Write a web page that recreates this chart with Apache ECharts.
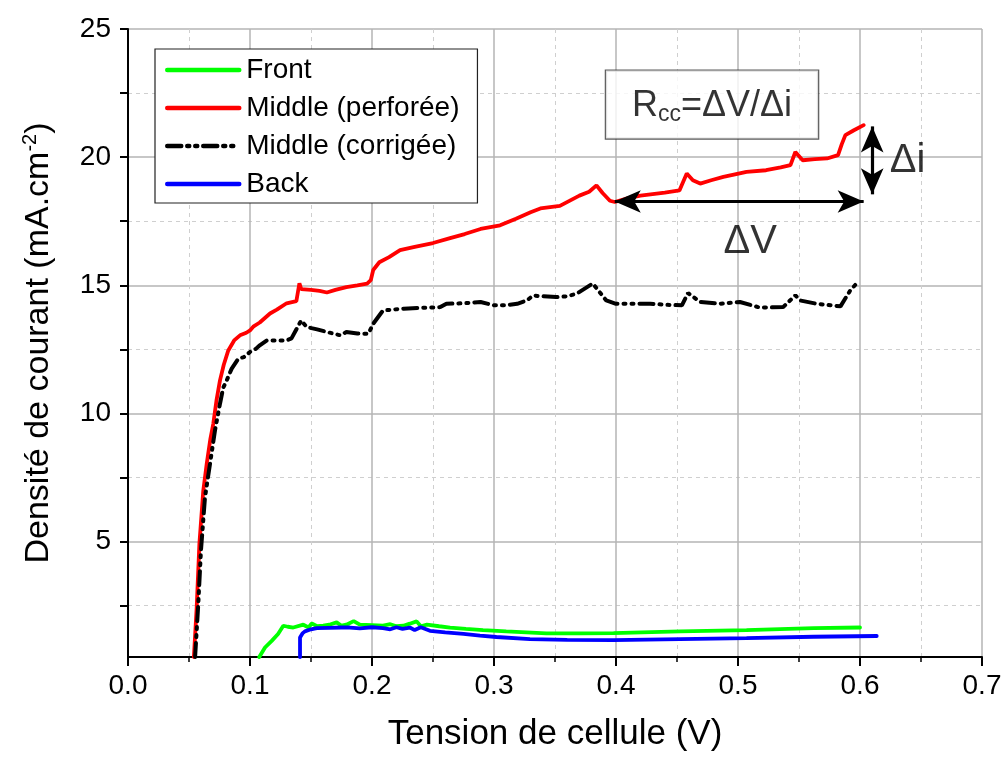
<!DOCTYPE html>
<html>
<head>
<meta charset="utf-8">
<script src="https://cdn.jsdelivr.net/npm/echarts@6/dist/echarts.min.js"></script>
<style>html,body{margin:0;padding:0;background:#fff}#c{width:1005px;height:760px}</style>
</head>
<body>
<div id="c"></div>
<script>
// ---- data ----
const seriesNames = ['Front', 'Middle (perforée)', 'Middle (corrigée)', 'Back'];
const front = [[0.1076,0.5],[0.1123,0.87],[0.1178,1.13],[0.123,1.4],[0.1273,1.72],[0.131,1.68],[0.1355,1.65],[0.1437,1.76],[0.148,1.65],[0.1506,1.81],[0.155,1.7],[0.16,1.72],[0.165,1.76],[0.171,1.85],[0.175,1.72],[0.179,1.76],[0.185,1.9],[0.19,1.76],[0.2,1.74],[0.209,1.72],[0.215,1.78],[0.22,1.7],[0.2257,1.72],[0.231,1.8],[0.2366,1.89],[0.24,1.7],[0.245,1.76],[0.255,1.7],[0.264,1.65],[0.277,1.6],[0.291,1.55],[0.31,1.5],[0.343,1.42],[0.37,1.42],[0.398,1.43],[0.4525,1.5],[0.507,1.55],[0.562,1.63],[0.6,1.65]];
const middlePerf = [[0.054,0.5],[0.0563,2.43],[0.0585,4.9],[0.0617,6.99],[0.0645,8.03],[0.0675,9.0],[0.0699,9.6],[0.0725,10.5],[0.0754,11.29],[0.0785,11.9],[0.0822,12.46],[0.087,12.85],[0.0918,13.05],[0.097,13.15],[0.1,13.24],[0.103,13.4],[0.108,13.55],[0.1164,13.9],[0.122,14.05],[0.13,14.3],[0.138,14.38],[0.1405,15.08],[0.142,14.85],[0.15,14.82],[0.157,14.78],[0.163,14.72],[0.17,14.82],[0.179,14.93],[0.188,15.0],[0.196,15.07],[0.199,15.2],[0.201,15.6],[0.206,15.9],[0.214,16.1],[0.223,16.37],[0.235,16.5],[0.25,16.65],[0.264,16.84],[0.276,17.0],[0.289,17.2],[0.305,17.34],[0.318,17.6],[0.33,17.85],[0.338,18.0],[0.354,18.1],[0.37,18.5],[0.378,18.65],[0.384,18.9],[0.389,18.6],[0.395,18.3],[0.399,18.25],[0.41,18.4],[0.42,18.5],[0.44,18.62],[0.452,18.7],[0.458,19.36],[0.463,19.1],[0.469,18.97],[0.478,19.1],[0.488,19.23],[0.507,19.43],[0.523,19.49],[0.535,19.6],[0.543,19.69],[0.547,20.2],[0.553,19.88],[0.563,19.92],[0.573,19.95],[0.582,20.08],[0.585,20.5],[0.588,20.86],[0.595,21.05],[0.603,21.25]];
const middleCorr = [[0.055,0.5],[0.0576,2.57],[0.0598,4.65],[0.0631,6.73],[0.0672,8.03],[0.0713,9.34],[0.0754,10.38],[0.078,11.0],[0.0809,11.29],[0.085,11.75],[0.0904,12.14],[0.095,12.2],[0.1,12.4],[0.105,12.53],[0.108,12.66],[0.1137,12.85],[0.122,12.85],[0.13,12.85],[0.134,12.93],[0.142,13.63],[0.1465,13.37],[0.155,13.28],[0.163,13.18],[0.174,13.05],[0.179,13.18],[0.188,13.12],[0.197,13.11],[0.201,13.5],[0.209,14.02],[0.226,14.09],[0.24,14.12],[0.256,14.15],[0.261,14.28],[0.275,14.3],[0.289,14.35],[0.3,14.22],[0.309,14.22],[0.319,14.28],[0.327,14.41],[0.332,14.6],[0.351,14.54],[0.36,14.57],[0.368,14.68],[0.381,15.07],[0.392,14.41],[0.4,14.28],[0.428,14.28],[0.4415,14.24],[0.454,14.22],[0.459,14.7],[0.469,14.35],[0.485,14.28],[0.5016,14.35],[0.518,14.13],[0.537,14.15],[0.547,14.61],[0.551,14.41],[0.5645,14.28],[0.584,14.18],[0.592,14.8],[0.599,15.17]];
const back = [[0.141,0.5],[0.141,1.26],[0.143,1.42],[0.145,1.5],[0.15,1.58],[0.1547,1.63],[0.165,1.64],[0.175,1.65],[0.182,1.65],[0.19,1.62],[0.2,1.66],[0.209,1.63],[0.215,1.58],[0.22,1.66],[0.225,1.6],[0.231,1.65],[0.235,1.55],[0.24,1.66],[0.2475,1.52],[0.26,1.46],[0.275,1.4],[0.2885,1.33],[0.302,1.28],[0.3295,1.2],[0.36,1.17],[0.398,1.16],[0.4525,1.2],[0.507,1.24],[0.562,1.29],[0.6137,1.32]];
const yMajorTicks = [5, 10, 15, 20, 25];
const yMinorTicks = [2.5, 7.5, 12.5, 17.5, 22.5];
const dvArrow = [[0.399, 18.27], [0.603, 18.27]];
const diArrow = [[0.61, 21.2], [0.61, 18.55]];
const annotPoints = [[0.51, 16.7], [0.639, 19.85], [0.4787, 22.05]];
const annotTexts = ['ΔV', 'Δi', '{r|R}{c|cc}{r|=ΔV/Δi}'];

// ---- chart ----
const FONT = '"Liberation Sans", Arial, sans-serif';
const chart = echarts.init(document.getElementById('c'), null, {renderer: 'canvas'});
const colors = ['#00ff00', '#ff0000', '#000000', '#0000ff'];
const datas = [front, middlePerf, middleCorr, back];
const series = seriesNames.map((n, i) => ({
  name: n, type: 'line', data: datas[i], symbol: 'none', showSymbol: false,
  animation: false, z: i === 2 ? 4 : 3,
  lineStyle: i === 2 ? {color: '#000', width: 4, type: [14, 6, 2, 6, 2, 6], cap: 'round'} : {color: colors[i], width: 3.8, cap: 'round'},
  itemStyle: {color: colors[i]}
}));
series.push({
  name: 'arrows', type: 'line', data: [], symbol: 'none', animation: false,
  markLine: {
    silent: true, animation: false,
    symbol: ['arrow', 'arrow'], symbolSize: [17, 26],
    lineStyle: {color: '#000', width: 3.2, type: 'solid'},
    label: {show: false},
    data: [
      [{coord: dvArrow[0]}, {coord: dvArrow[1]}],
      [{coord: diArrow[0]}, {coord: diArrow[1]}]
    ]
  }
});
series.push({
  name: 'annot', type: 'scatter', animation: false, silent: true,
  symbolSize: 1, itemStyle: {color: 'rgba(0,0,0,0)'},
  data: annotPoints.map((p, i) => ({
    value: p,
    label: i === 2 ? {
      show: true, position: 'inside', formatter: annotTexts[i],
      backgroundColor: '#fff', borderColor: '#333', borderWidth: 1.2,
      padding: [14, 26, 12, 26],
      rich: {
        r: {fontSize: 36, fontFamily: FONT, color: '#000', lineHeight: 42},
        c: {fontSize: 23, fontFamily: FONT, color: '#000', verticalAlign: 'bottom', lineHeight: 42}
      }
    } : {
      show: true, position: 'inside', formatter: annotTexts[i],
      fontSize: 40, fontFamily: FONT, color: '#000'
    }
  }))
});

chart.setOption({
  backgroundColor: '#fff',
  animation: false,
  grid: {left: 128, right: 23, top: 29, bottom: 103, containLabel: false},
  legend: {
    data: seriesNames, orient: 'vertical', left: 155, top: 49,
    backgroundColor: '#fff', borderColor: '#222', borderWidth: 1.2,
    padding: [7, 18, 5, 10], itemWidth: 72, itemHeight: 16, itemGap: 10,
    itemStyle: {opacity: 0},
    lineStyle: {width: 4.5, cap: 'round'},
    textStyle: {fontSize: 28, fontFamily: FONT, color: '#000', padding: [0, 0, 0, 2]},
    selectedMode: false
  },
  xAxis: {
    type: 'value', min: 0, max: 0.7, interval: 0.1,
    name: 'Tension de cellule (V)', nameLocation: 'middle', nameGap: 60,
    nameTextStyle: {fontSize: 35, fontFamily: FONT, color: '#000'},
    axisLine: {show: true, onZero: false, lineStyle: {color: '#000', width: 2}},
    axisTick: {show: true, length: 9, lineStyle: {color: '#000', width: 2}},
    minorTick: {show: true, splitNumber: 2, length: 5, lineStyle: {color: '#000', width: 1.5}},
    splitLine: {show: true, lineStyle: {color: '#b4b4b4', width: 1.5}},
    minorSplitLine: {show: true, lineStyle: {color: '#cfcfcf', width: 1, type: [4, 4]}},
    axisLabel: {formatter: v => v.toFixed(1), fontSize: 28, fontFamily: FONT, color: '#000', margin: 15}
  },
  yAxis: [{
    type: 'value', min: 0.5, max: 25, position: 'left',
    name: '{t|Densité de courant (mA.cm}{s|-2}{t|)}', nameLocation: 'middle', nameGap: 70,
    nameTextStyle: {
      rich: {
        t: {fontSize: 34, fontFamily: FONT, color: '#000', lineHeight: 38},
        s: {fontSize: 20, fontFamily: FONT, color: '#000', verticalAlign: 'top', lineHeight: 38}
      }
    },
    axisLine: {show: true, onZero: false, lineStyle: {color: '#000', width: 2}},
    axisTick: {show: true, length: 8, customValues: yMajorTicks, lineStyle: {color: '#000', width: 2}},
    splitLine: {show: true, lineStyle: {color: '#b4b4b4', width: 1.5}},
    axisLabel: {customValues: yMajorTicks, fontSize: 28, fontFamily: FONT, color: '#000', margin: 17}
  }, {
    type: 'value', min: 0.5, max: 25, position: 'left',
    axisLine: {show: false},
    axisTick: {show: true, length: 8, customValues: yMinorTicks, lineStyle: {color: '#000', width: 2}},
    splitLine: {show: true, lineStyle: {color: '#cfcfcf', width: 1, type: [4, 4]}},
    axisLabel: {show: false}
  }],
  series: series
});
</script>
</body>
</html>
